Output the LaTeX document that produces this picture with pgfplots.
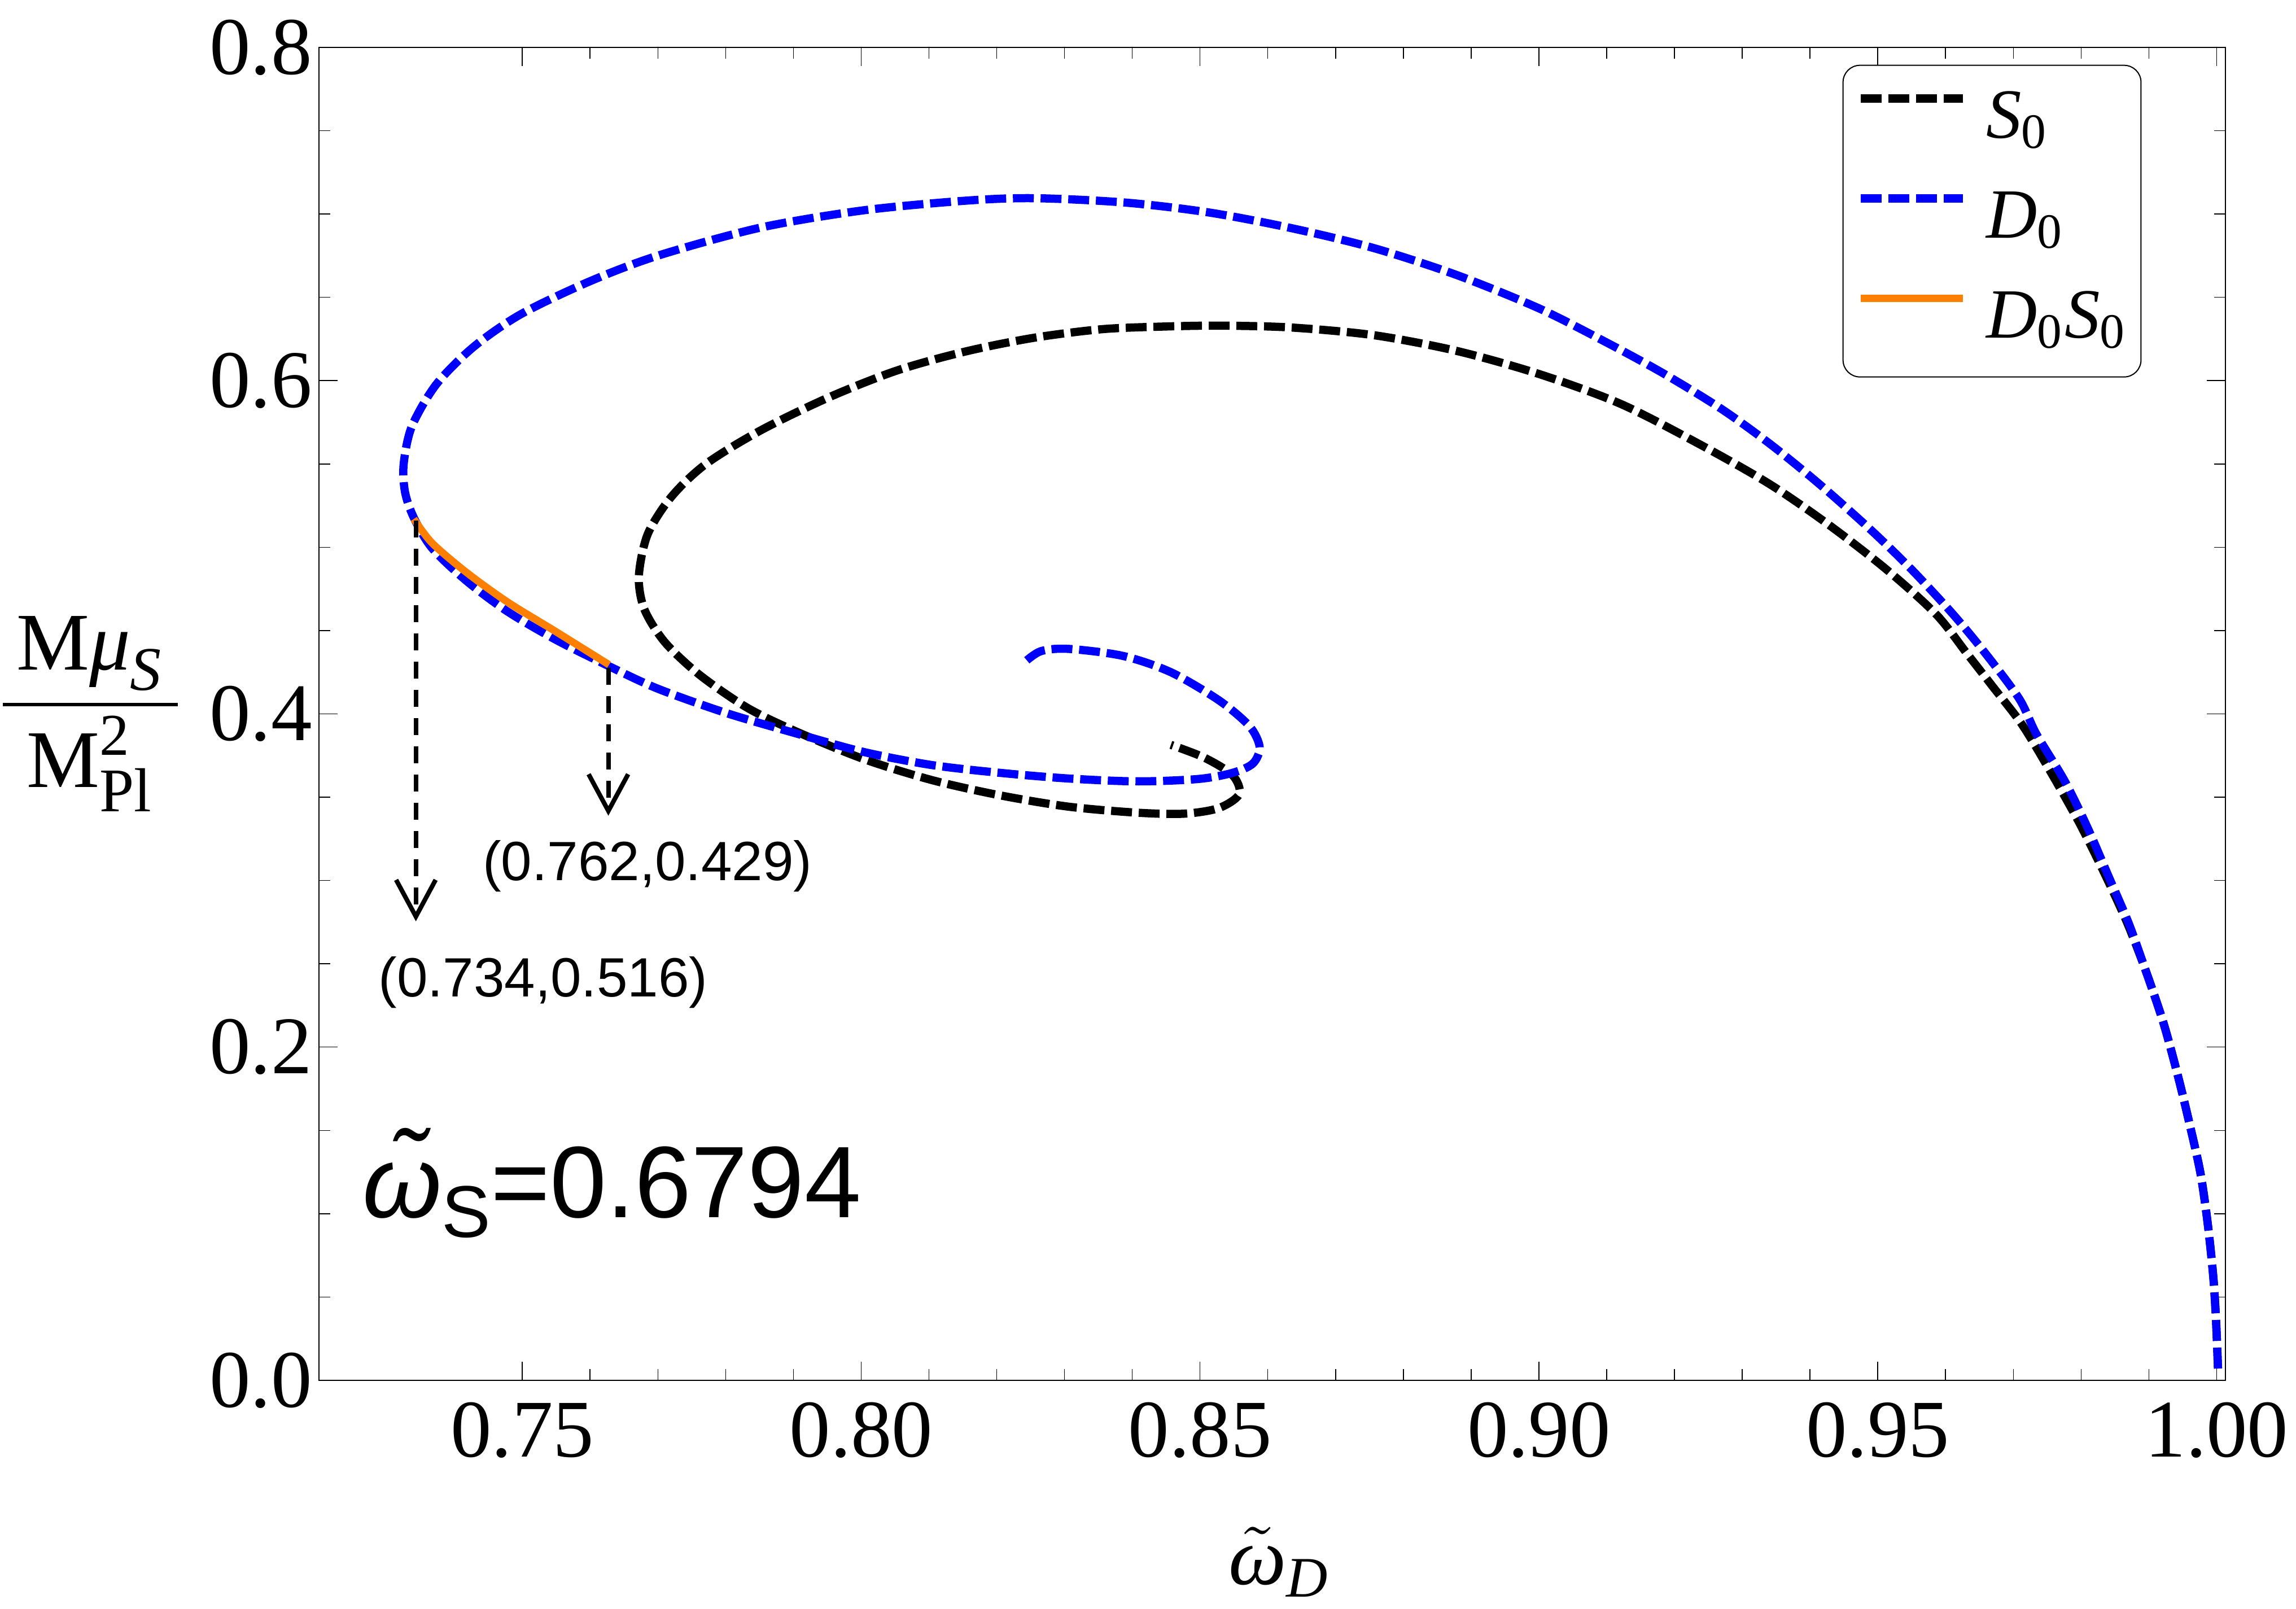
\documentclass[border=0pt]{standalone}
\usepackage{fontspec}
\setmainfont{Liberation Serif}
\setsansfont{Liberation Sans}
\usepackage{amsmath}
\usepackage{pgfplots}
\pgfplotsset{compat=1.18}
\usetikzlibrary{arrows.meta}
\definecolor{mblue}{RGB}{0,0,255}
\definecolor{morange}{RGB}{255,128,0}

\pgfplotstableread{
x y
1.0002 0.0071
0.9999 0.0369
0.9995 0.0623
0.9987 0.0935
0.9976 0.1246
0.9959 0.1557
0.9942 0.1841
0.9921 0.2152
0.9895 0.2463
0.9868 0.2746
0.9836 0.3030
0.9798 0.3341
0.9755 0.3652
0.9713 0.3935
0.9670 0.4162
0.9632 0.4360
0.9586 0.4598
0.9513 0.4866
0.9428 0.5134
0.9342 0.5375
0.9244 0.5603
0.9122 0.5858
0.9000 0.6040
0.8878 0.6179
0.8756 0.6273
0.8634 0.6319
0.8530 0.6330
0.8450 0.6325
0.8356 0.6309
0.8256 0.6258
0.8154 0.6175
0.8053 0.6061
0.7952 0.5899
0.7852 0.5702
0.7771 0.5500
0.7720 0.5303
0.7685 0.5078
0.7672 0.4826
0.7680 0.4629
0.7710 0.4432
0.7761 0.4236
0.7831 0.4039
0.7902 0.3898
0.8003 0.3730
0.8104 0.3603
0.8205 0.3511
0.8306 0.3443
0.8407 0.3407
0.8477 0.3401
0.8528 0.3435
0.8558 0.3519
0.8548 0.3632
0.8507 0.3736
0.8457 0.3814
}\tableS

\pgfplotstableread{
x y
1.0002 0.0071
0.9999 0.0369
0.9995 0.0623
0.9987 0.0935
0.9976 0.1246
0.9959 0.1557
0.9942 0.1841
0.9921 0.2152
0.9895 0.2463
0.9870 0.2746
0.9840 0.3030
0.9810 0.3313
0.9776 0.3596
0.9734 0.3879
0.9709 0.4089
0.9660 0.4357
0.9611 0.4598
0.9550 0.4866
0.9489 0.5107
0.9415 0.5375
0.9342 0.5617
0.9269 0.5831
0.9183 0.6045
0.9098 0.6233
0.9000 0.6434
0.8878 0.6635
0.8756 0.6796
0.8634 0.6916
0.8512 0.7010
0.8389 0.7069
0.8255 0.7095
0.8154 0.7080
0.8003 0.7022
0.7851 0.6918
0.7700 0.6750
0.7599 0.6595
0.7498 0.6399
0.7428 0.6202
0.7373 0.5977
0.7337 0.5725
0.7325 0.5500
0.7327 0.5331
0.7340 0.5177
0.7367 0.4994
0.7418 0.4797
0.7478 0.4615
0.7549 0.4446
0.7628 0.4286
0.7700 0.4151
0.7801 0.4005
0.7902 0.3885
0.8003 0.3772
0.8104 0.3693
0.8205 0.3646
0.8306 0.3612
0.8407 0.3595
0.8497 0.3609
0.8548 0.3646
0.8578 0.3702
0.8588 0.3800
0.8573 0.3926
0.8528 0.4081
0.8457 0.4250
0.8386 0.4348
0.8306 0.4390
0.8265 0.4376
0.8240 0.4306
}\tableD

\pgfplotstableread{
x y
0.7340 0.5170
0.7367 0.5025
0.7418 0.4848
0.7478 0.4672
0.7549 0.4495
0.7628 0.4295
}\tableDS

\begin{document}
\begin{tikzpicture}
\begin{axis}[
  scale only axis, width=337.7pt, height=236.1pt,
  xmin=0.72, xmax=1.0013, ymin=0, ymax=0.8,
  clip=false,
  xtick={0.75,0.8,0.85,0.9,0.95,1.0},
  ytick={0,0.2,0.4,0.6,0.8},
  minor x tick num=4, minor y tick num=3,
  tick align=inside,
  major tick length=3.3pt, minor tick length=2pt,
  axis line style={line width=0.15pt},
  every tick/.style={black, line width=0.15pt},
  /pgf/number format/assume math mode=true,
  tick label style={font=\fontsize{14.5}{17}\selectfont},
  xticklabel style={/pgf/number format/fixed, /pgf/number format/fixed zerofill, /pgf/number format/precision=2, yshift=-0.4pt},
  yticklabel style={/pgf/number format/fixed, /pgf/number format/fixed zerofill, /pgf/number format/precision=1, xshift=2.3pt},
  legend style={at={(rel axis cs:0.956,0.987)}, anchor=north east, draw=black, line width=0.2pt,
    rounded corners=3pt, inner xsep=2.4pt, inner ysep=3.9pt, row sep=5.7pt, column sep=3.4pt,
    font=\fontsize{12.5}{15}\selectfont, nodes={inner sep=0pt, text height=9pt, text depth=3pt}},
  legend cell align=left,
  legend image code/.code={\draw[#1] (0pt,4pt) -- (18.1pt,4pt);},
]
\addplot[black, line width=1.45pt, dash pattern=on 3.7pt off 1.2pt, smooth, tension=0.5] table[x=x,y=y] {\tableS};
\addlegendentry{\textit{S}\textsubscript{0}}
\addplot[mblue, line width=1.45pt, dash pattern=on 3.7pt off 1.2pt, smooth, tension=0.5] table[x=x,y=y] {\tableD};
\addlegendentry{\textit{D}\textsubscript{0}}
\addplot[morange, line width=1.3pt, solid, smooth, tension=0.5] table[x=x,y=y] {\tableDS};
\addlegendentry{\textit{D}\textsubscript{0}\textit{S}\textsubscript{0}}

\addplot[black, line width=0.8pt, dash pattern=on 3pt off 2pt, -{Straight Barb[length=6.5pt,width=7pt]}, forget plot] coordinates {(0.7343,0.516) (0.7343,0.2755)};
\addplot[black, line width=0.8pt, dash pattern=on 3pt off 2pt, -{Straight Barb[length=6.5pt,width=7pt]}, forget plot] coordinates {(0.7627,0.4277) (0.7627,0.3389)};

\node[font=\fontsize{9.8}{11}\selectfont\sffamily, anchor=base, inner sep=0pt] at (axis cs:0.75306,0.2301) {(0.734,0.516)};
\node[font=\fontsize{9.8}{11}\selectfont\sffamily, anchor=base, inner sep=0pt] at (axis cs:0.76846,0.3002) {(0.762,0.429)};
\node[font=\fontsize{18}{20}\selectfont\sffamily, anchor=base west, inner sep=0pt] at (axis cs:0.7263,0.0976) {\textit{\~{ω}}\raisebox{-3.5pt}{\fontsize{13}{13}\selectfont S}=0.6794};

\node[font=\fontsize{14.5}{17}\selectfont, anchor=base west, inner sep=0pt] at (rel axis cs:0.4765,-0.1533) {$\tilde{\text{\itshape ω}}_{\text{\itshape D}}$};
\node[font=\fontsize{14.5}{17}\selectfont, anchor=center, inner sep=0pt] at (rel axis cs:-0.1199,0.50) {$\dfrac{\,\text{M}\text{\itshape μ}_{\text{\fontsize{11}{11}\selectfont\itshape S}}\,}{\text{M}_{\text{\fontsize{11}{11}\selectfont Pl}}^{\text{\fontsize{10.5}{11}\selectfont 2}}}$};
\end{axis}
\pgfresetboundingbox
\path[use as bounding box] ([xshift=-56.5pt,yshift=-40.5pt]current axis.south west) rectangle ([xshift=12.5pt,yshift=8.4pt]current axis.north east);
\end{tikzpicture}
\end{document}
